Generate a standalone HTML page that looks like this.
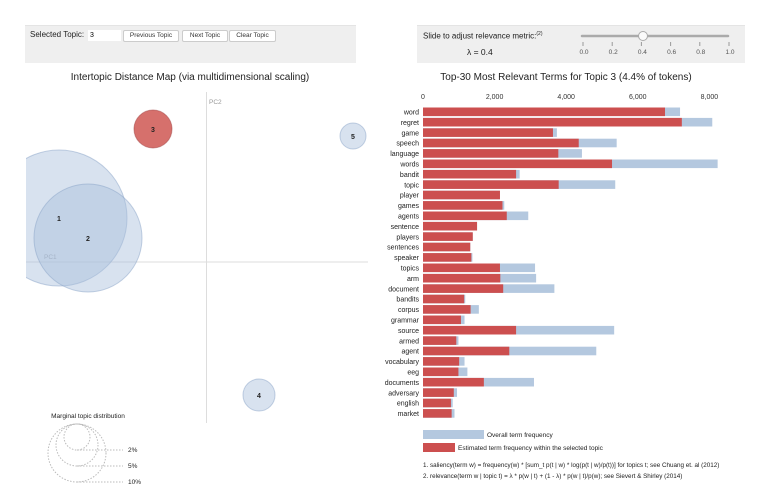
<!DOCTYPE html>
<html><head><meta charset="utf-8"><style>
body{margin:0;width:766px;height:501px;background:#fff;font-family:"Liberation Sans",sans-serif;overflow:hidden;position:relative}
.box{position:absolute;background:#efefef;border-top:1px solid #e4e4e4}
.btn{position:absolute;top:30px;height:10px;border:1px solid #ccc;border-radius:2px;background:#fff;font-size:6.5px;line-height:10px;text-align:center;color:#333}
</style></head><body>
<div class="box" style="left:25px;top:25px;width:331px;height:37px"></div>
<div class="box" style="left:417px;top:25px;width:328px;height:37px"></div>
<div style="position:absolute;left:30px;top:30px;font-size:8px;color:#222">Selected Topic:</div>
<div style="position:absolute;left:88px;top:30px;width:31px;height:11px;background:#fff;font-size:7px;line-height:11px;padding-left:2px">3</div>
<div class="btn" style="left:123px;width:54px">Previous Topic</div>
<div class="btn" style="left:182px;width:44px">Next Topic</div>
<div class="btn" style="left:229px;width:45px">Clear Topic</div>
<div style="position:absolute;left:423px;top:31px;font-size:8px;color:#222">Slide to adjust relevance metric:<sup style="font-size:5px">(2)</sup></div>
<div style="position:absolute;left:467px;top:47px;font-size:8.5px;color:#222">λ = 0.4</div>
<svg width="766" height="501" style="position:absolute;left:0;top:0" font-family="Liberation Sans, sans-serif">
<g>
<line x1="582" y1="36" x2="728" y2="36" stroke="#aaa" stroke-width="2.5" stroke-linecap="round"/>
<g id="sticks" fill="#555" font-size="6.5" text-anchor="middle"></g>
<circle cx="643" cy="36" r="4.5" fill="#fafafa" stroke="#aaa"/>
</g>
<text x="190" y="80" font-size="10" text-anchor="middle" fill="#222">Intertopic Distance Map (via multidimensional scaling)</text>
<text x="566" y="80" font-size="10" text-anchor="middle" fill="#222">Top-30 Most Relevant Terms for Topic 3 (4.4% of tokens)</text>
<defs><clipPath id="cp"><rect x="26" y="90" width="350" height="340"/></clipPath></defs>
<line x1="206.5" y1="92" x2="206.5" y2="423" stroke="#ddd"/>
<line x1="26" y1="262" x2="368" y2="262" stroke="#ddd"/>
<text x="209" y="104" font-size="6.5" fill="#999">PC2</text>
<text x="44" y="259" font-size="6.5" fill="#999">PC1</text>
<g id="circles" clip-path="url(#cp)"></g>
<g>
<text x="88" y="418" font-size="6.5" text-anchor="middle" fill="#222">Marginal topic distribution</text>
<g id="mlegend" fill="none" stroke="#bbb" stroke-dasharray="1.5,1.5" font-size="6.5"></g>
</g>
<g id="bars"></g>
<g>
<rect x="423" y="430" width="61" height="9" fill="#b4c8df"/>
<text x="487" y="437" font-size="6.5" fill="#222">Overall term frequency</text>
<rect x="423" y="443" width="32" height="9" fill="#cc4f4f"/>
<text x="458" y="450" font-size="6.5" fill="#222">Estimated term frequency within the selected topic</text>
<text x="423" y="467" font-size="6.3" fill="#222">1. saliency(term w) = frequency(w) * [sum_t p(t | w) * log(p(t | w)/p(t))] for topics t; see Chuang et. al (2012)</text>
<text x="423" y="478" font-size="6.3" fill="#222">2. relevance(term w | topic t) = λ * p(w | t) + (1 - λ) * p(w | t)/p(w); see Sievert &amp; Shirley (2014)</text>
</g>
</svg>
<script>
const terms=["word","regret","game","speech","language","words","bandit","topic","player","games","agents","sentence","players","sentences","speaker","topics","arm","document","bandits","corpus","grammar","source","armed","agent","vocabulary","eeg","documents","adversary","english","market"];
const topicFreq=[6760,7230,3630,4350,3780,5280,2600,3790,2150,2220,2340,1510,1390,1320,1350,2150,2160,2240,1150,1330,1060,2600,930,2410,1010,990,1700,860,780,800];
const totalFreq=[7180,8080,3740,5410,4440,8230,2700,5370,2150,2270,2940,1510,1390,1320,1380,3130,3160,3670,1180,1560,1160,5340,990,4840,1160,1240,3100,950,830,880];
const xTicks=[0,2000,4000,6000,8000];
const topicIds=["1","2","3","4","5"];
const topicX=[59,88,153,259,353];
const topicY=[218,238,129,395,136];
const topicR=[68,54,19,16,13];
const legendPct=["2%","5%","10%"];
const legendR=[13,21,29];
const sliderTicks=[0,0.2,0.4,0.6,0.8,1.0];
const NS="http://www.w3.org/2000/svg";
function mk(t,a,p){const e=document.createElementNS(NS,t);for(const k in a)e.setAttribute(k,a[k]);p.appendChild(e);return e;}
const xs=v=>423+v*0.0358;
const ys=i=>107.5+i*10.4;
const sx=v=>583+v*146;
const st=document.getElementById('sticks');
sliderTicks.forEach(v=>{mk('line',{x1:sx(v),y1:42,x2:sx(v),y2:46,stroke:'#999'},st);const t=mk('text',{x:sx(v)+1,y:54},st);t.textContent=v.toFixed(1);});
const bars=document.getElementById('bars');
xTicks.forEach(v=>{const t=mk('text',{x:xs(v),y:99,'font-size':7,'text-anchor':'middle',fill:'#333'},bars);


t.textContent=v.toLocaleString('en-US');});
terms.forEach((w,i)=>{
const b=mk('rect',{x:423,y:ys(i),width:xs(totalFreq[i])-423,height:8.6,fill:'#b4c8df'},bars);


const r=mk('rect',{x:423,y:ys(i),width:xs(topicFreq[i])-423,height:8.6,fill:'#cc4f4f'},bars);


const t=mk('text',{x:419,y:ys(i)+7,'font-size':7,'text-anchor':'end',fill:'#222'},bars);


t.textContent=w;});
const cg=document.getElementById('circles');
topicIds.forEach((id,i)=>{const sel=id==="3";
const c=mk('circle',{cx:topicX[i],cy:topicY[i],r:topicR[i],fill:sel?'#d2605c':'#a9bfdc','fill-opacity':sel?0.9:0.45,stroke:sel?'#a04040':'#8aa4c8','stroke-opacity':0.5},cg);

});
topicIds.forEach((id,i)=>{const t=mk('text',{x:topicX[i],y:topicY[i]+3,'font-size':7,'font-weight':'bold','text-anchor':'middle',fill:'#222'},cg);


t.textContent=id;});
const ml=document.getElementById('mlegend');
legendR.forEach((r,i)=>{mk('circle',{cx:77,cy:424+r,r:r},ml);mk('line',{x1:77,y1:424+2*r,x2:123,y2:424+2*r},ml);
const t=mk('text',{x:128,y:426+2*r,fill:'#222',stroke:'none'},ml);t.textContent=legendPct[i];});
</script>
</body></html>
